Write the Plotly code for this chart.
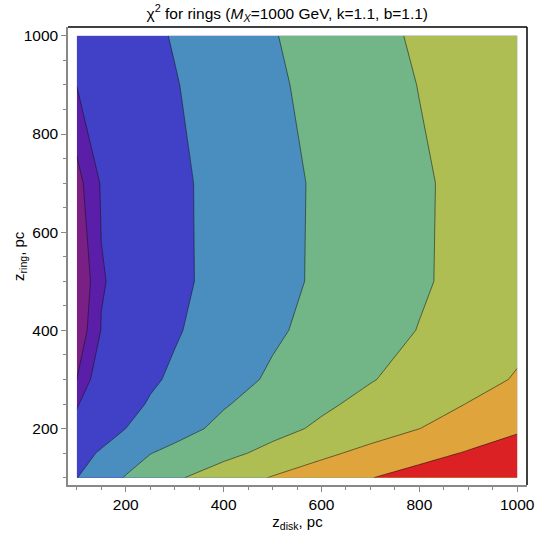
import plotly.graph_objects as go

# grid of the scan (pc)
z_disk = [100, 150, 200, 250, 300, 400, 500, 600, 700, 800, 900, 1000]
z_ring = [100, 150, 200, 250, 300, 400, 500, 700, 900, 1000]

# chi^2 level index (rows = z_ring, cols = z_disk)
chi2 = [
    [2.98, 3.538, 4.057, 4.463, 4.870, 5.488, 6.055, 6.514, 6.972, 7.376, 7.776, 8.176],  # 100
    [2.66, 3.098, 3.537, 3.975, 4.238, 4.743, 5.265, 5.803, 6.259, 6.669, 7.078, 7.488],  # 150
    [2.142, 2.571, 3.000, 3.327, 3.654, 4.224, 4.700, 5.155, 5.573, 5.992, 6.426, 6.861],  # 200
    [1.9645, 2.343, 2.722, 3.076, 3.360, 3.928, 4.392, 4.841, 5.250, 5.639, 6.025, 6.382],  # 250
    [1.00, 2.786, 2.830, 2.877, 3.133, 3.646, 4.128, 4.539, 4.951, 5.326, 5.696, 6.067],  # 300
    [0.25, 2.036, 2.330, 2.624, 2.918, 3.403, 3.866, 4.270, 4.650, 5.028, 5.400, 5.770],  # 400
    [-0.20, 1.9425, 2.230, 2.517, 2.805, 3.289, 3.728, 4.143, 4.519, 4.895, 5.248, 5.593],  # 500
    [0.618, 2.090, 2.335, 2.580, 2.824, 3.279, 3.716, 4.132, 4.508, 4.883, 5.238, 5.583],  # 700
    [2.02, 2.253, 2.487, 2.720, 2.953, 3.405, 3.856, 4.260, 4.641, 5.021, 5.379, 5.736],  # 900
    [2.165, 2.388, 2.612, 2.835, 3.058, 3.504, 3.951, 4.349, 4.741, 5.121, 5.479, 5.836],  # 1000
]

band_colors = ["#7A1F86", "#5A1EA8", "#4141C8", "#4A8EC0",
               "#72B688", "#AEBE52", "#E0A43C", "#DB2124"]
n = len(band_colors)
colorscale = [[i / (n - 1), c] for i, c in enumerate(band_colors)]

fig = go.Figure(go.Contour(
    x=z_disk, y=z_ring, z=chi2,
    autocontour=False,
    contours=dict(start=1, end=7, size=1, coloring="fill"),
    colorscale=colorscale,
    showscale=False,
    line=dict(color="rgba(20,20,20,0.7)", width=0.8, smoothing=0),
    hoverinfo="skip",
))

font = "Arial"
axis_common = dict(
    showgrid=False, zeroline=False, automargin=False,
    showline=True, linecolor="#888888", linewidth=1.5,
    ticks="outside", ticklen=5, tickwidth=1, tickcolor="#888888",
    tickfont=dict(family=font, size=15.5, color="#000"),
    ticklabeloverflow="allow",
    dtick=200, tick0=0,
    minor=dict(dtick=50, ticks="outside", ticklen=3, tickcolor="#888888", tickwidth=1),
)

fig.update_layout(
    width=535, height=536,
    margin=dict(l=68, r=8, t=27, b=51),
    paper_bgcolor="white", plot_bgcolor="white",
    title=dict(
        text="χ<sup>2</sup> for rings (<i>M<sub>X</sub></i>=1000 GeV, k=1.1, b=1.1)",
        font=dict(family=font, size=15.5, color="#000"),
        x=0.537, xanchor="center", y=0.985, yanchor="top",
    ),
    xaxis=dict(range=[82, 1020],
               title=dict(text="z<sub>disk</sub>, pc", font=dict(family=font, size=15, color="#000"), standoff=4),
               **axis_common),
    yaxis=dict(range=[85, 1018], **axis_common),
    annotations=[
        dict(text="z<sub>ring</sub>, pc", xref="paper", yref="paper",
             x=-0.107, y=0.5, xanchor="center", yanchor="middle",
             textangle=-90, showarrow=False,
             font=dict(family=font, size=15, color="#000")),
    ],
    shapes=[
        dict(type="line", xref="paper", yref="paper", x0=0, x1=1, y0=1, y1=1,
             line=dict(color="#000", width=1.5)),
        dict(type="line", xref="paper", yref="paper", x0=1, x1=1, y0=0, y1=1,
             line=dict(color="#000", width=1.5)),
    ],
)

fig.write_html("out.html")
